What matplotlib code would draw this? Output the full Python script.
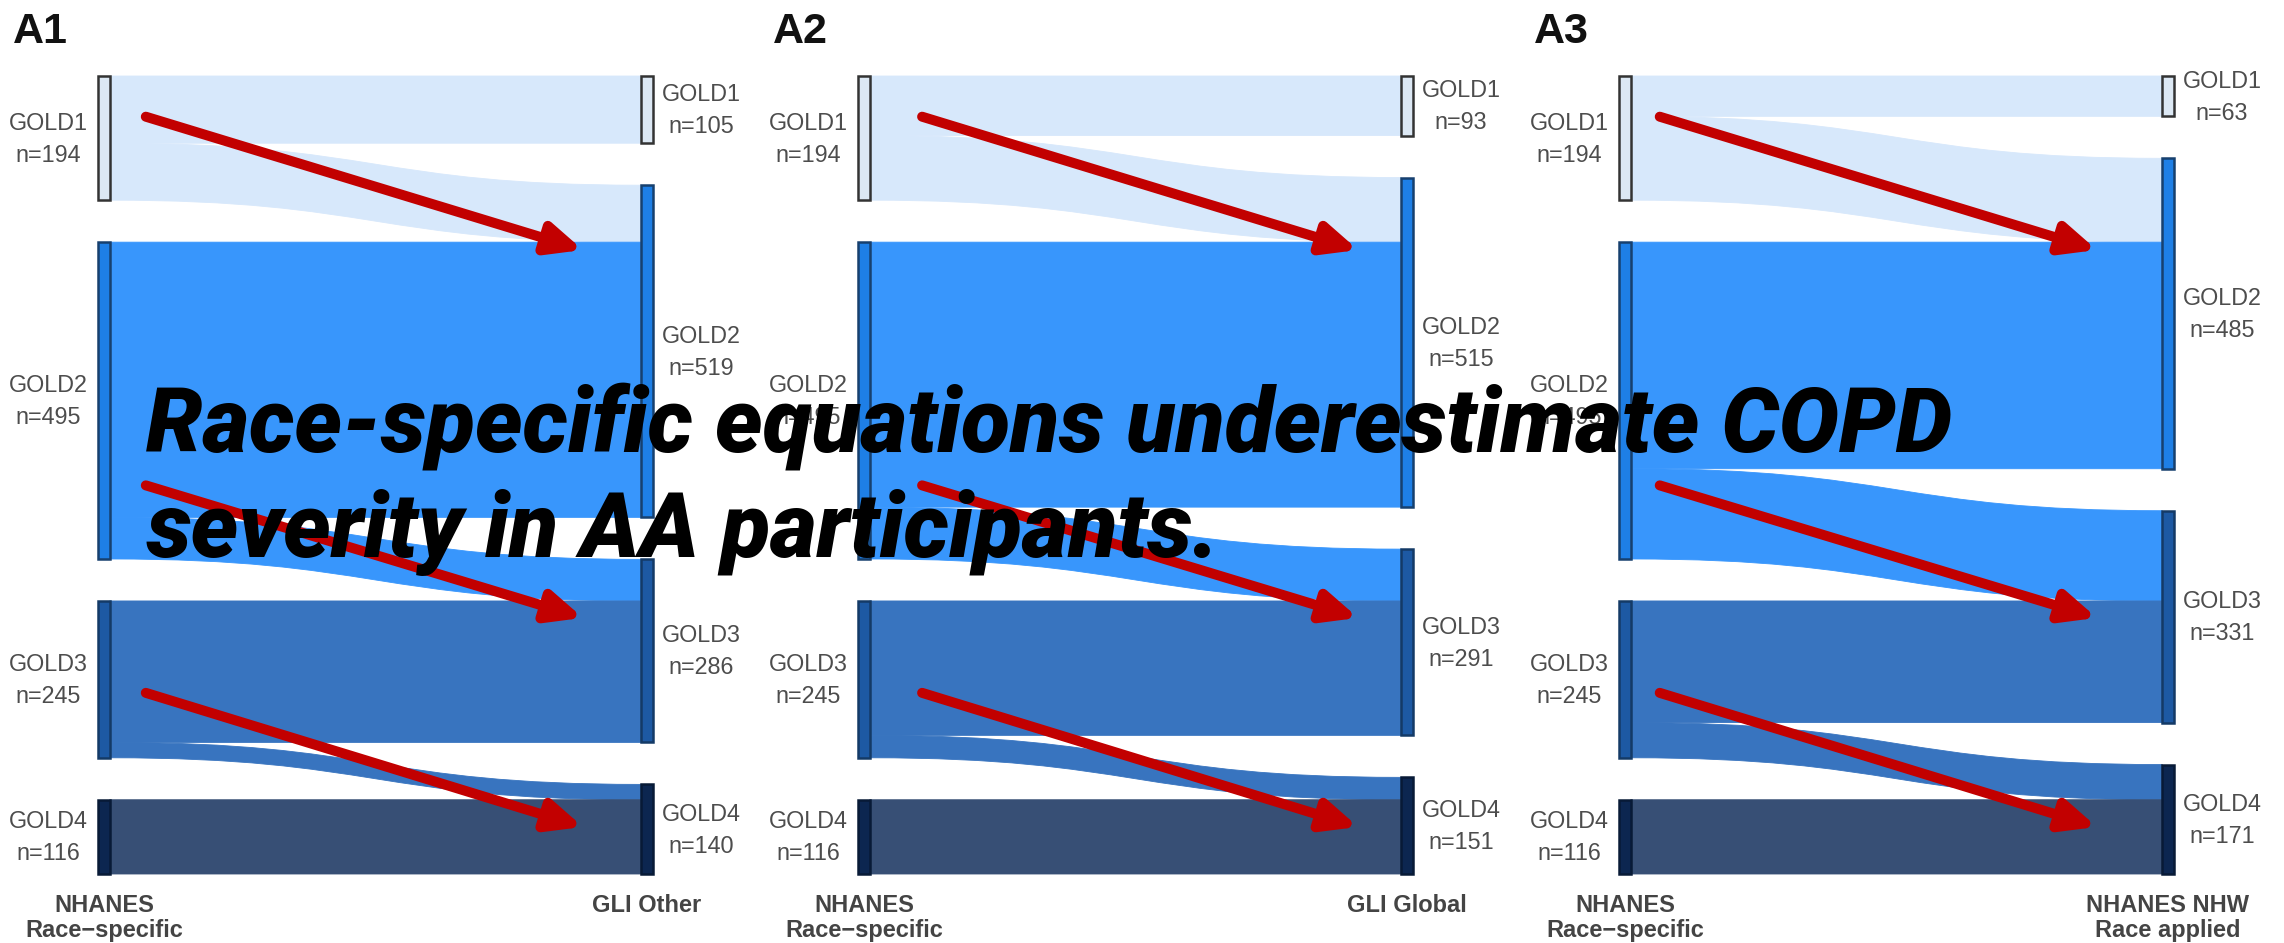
import matplotlib
matplotlib.use("Agg")
import matplotlib.pyplot as plt
from matplotlib.path import Path
from matplotlib.patches import PathPatch, Rectangle
from matplotlib.font_manager import FontProperties, fontManager, weight_dict

# ---------------------------------------------------------------- data
stages = ["GOLD1", "GOLD2", "GOLD3", "GOLD4"]
left_counts = [194, 495, 245, 116]

panel_tags = ["A1", "A2", "A3"]
left_axis_label = ["NHANES", "Race\u2212specific"]
right_axis_labels = [["GLI Other"], ["GLI Global"], ["NHANES NHW", "Race applied"]]

right_counts_a1 = [105, 519, 286, 140]
right_counts_a2 = [93, 515, 291, 151]
right_counts_a3 = [63, 485, 331, 171]

# flow matrices: row = stage under race-specific equation, column = stage under alternative
flows_a1 = [[105, 89, 0, 0],
            [0, 430, 65, 0],
            [0, 0, 221, 24],
            [0, 0, 0, 116]]
flows_a2 = [[93, 101, 0, 0],
            [0, 414, 81, 0],
            [0, 0, 210, 35],
            [0, 0, 0, 116]]
flows_a3 = [[63, 131, 0, 0],
            [0, 354, 141, 0],
            [0, 0, 190, 55],
            [0, 0, 0, 116]]

title_lines = ["Race-specific equations underestimate COPD",
               "severity in AA participants."]

# ---------------------------------------------------------------- style
flow_colors = ["#d7e8fb", "#3896fc", "#3874bf", "#374f75"]
bar_colors = ["#dce8f4", "#1e7fe6", "#1d59a3", "#0c2650"]
bar_edges = ["#333333", "#17406e", "#143a66", "#081a36"]
label_color = "#4d4d4d"
arrow_color = "#c20000"

W, H, DPI = 2284, 943, 100
GAP = 65.6            # vertical gap between stage blocks, in participants
BAR_W = 0.021         # bar width as a fraction of the left-right distance
TOP_PX, BOT_PX = 76, 874
LEFT_BAR_PX = [104, 864, 1625]
SPAN_PX = 543

# red annotation arrows (axes fractions): start/end per panel
arrow_x = [(0.077, 0.882), (0.107, 0.910), (0.064, 0.869)]
arrow_y = [(0.949, 0.782), (0.487, 0.321), (0.227, 0.059)]
ARROW_STYLE = "-|>,head_length=0.62,head_width=0.28"

PX = 72.0 / DPI       # points per pixel

plt.rcParams["font.family"] = ["Liberation Sans", "DejaVu Sans"]

fig = plt.figure(figsize=(W / DPI, H / DPI), dpi=DPI)
fig.patch.set_facecolor("white")


def spans(counts):
    out, y = [], 0.0
    for c in counts:
        out.append([y, y + c])
        y += c + GAP
    return out


def ribbon(ax, x0, x1, a0, a1, b0, b1, color):
    xm = (x0 + x1) / 2
    verts = [(x0, a0), (xm, a0), (xm, b0), (x1, b0),
             (x1, b1), (xm, b1), (xm, a1), (x0, a1), (x0, a0)]
    codes = [Path.MOVETO, Path.CURVE4, Path.CURVE4, Path.CURVE4,
             Path.LINETO, Path.CURVE4, Path.CURVE4, Path.CURVE4, Path.CLOSEPOLY]
    ax.add_patch(PathPatch(Path(verts, codes), facecolor=color,
                           edgecolor=color, lw=0.6, zorder=1, clip_on=False))


def two_lines(ax, x, y, lines, dx, dys, **kw):
    for line, dy in zip(lines, dys):
        ax.annotate(line, xy=(x, y), xycoords="data", xytext=(dx, dy),
                    textcoords="offset points", ha="center", va="baseline",
                    annotation_clip=False, **kw)


def red_arrow(ax, start, end):
    ax.annotate("", xy=end, xycoords="axes fraction", xytext=start, zorder=10,
                annotation_clip=False,
                arrowprops=dict(arrowstyle=ARROW_STYLE, mutation_scale=33,
                                lw=7.2, color=arrow_color,
                                shrinkA=0, shrinkB=0))


panels = [(right_counts_a1, flows_a1), (right_counts_a2, flows_a2),
          (right_counts_a3, flows_a3)]

for k, (rcounts, flows) in enumerate(panels):
    ax = fig.add_axes([LEFT_BAR_PX[k] / W, (H - BOT_PX) / H,
                       SPAN_PX / W, (BOT_PX - TOP_PX) / H])
    total = sum(left_counts) + GAP * (len(stages) - 1)
    ax.set_xlim(0, 1)
    ax.set_ylim(total, 0)
    ax.axis("off")

    lsp, rsp = spans(left_counts), spans(rcounts)
    lcur = [s[0] for s in lsp]
    rcur = [s[0] for s in rsp]
    hw = BAR_W / 2
    n = len(stages)
    for i in range(n):
        for j in range(n):
            v = flows[i][j]
            if v <= 0:
                continue
            a0 = lcur[i]
            lcur[i] += v
            b0 = rcur[j]
            rcur[j] += v
            ribbon(ax, hw, 1 - hw, a0, a0 + v, b0, b0 + v, flow_colors[i])

    for side, sp, counts in ((0.0, lsp, left_counts), (1.0, rsp, rcounts)):
        for i, (y0, y1) in enumerate(sp):
            ax.add_patch(Rectangle((side - hw, y0), BAR_W, y1 - y0,
                                   facecolor=bar_colors[i], edgecolor=bar_edges[i],
                                   lw=1.8, zorder=3, clip_on=False))
            dx = -56 * PX if side == 0 else 54 * PX
            two_lines(ax, side, (y0 + y1) / 2,
                      [stages[i], f"n={counts[i]}"], dx,
                      [8.5 * PX, -23.5 * PX], fontsize=16.8, color=label_color)

    two_lines(ax, 0.0, total, left_axis_label, 0, [-38 * PX, -63 * PX],
              fontsize=17, fontweight="bold", color="#444444")
    two_lines(ax, 1.0, total, right_axis_labels[k], 0, [-38 * PX, -63 * PX],
              fontsize=17, fontweight="bold", color="#444444")

    fig.text((LEFT_BAR_PX[k] - 91) / W, 1 - 43 / H, panel_tags[k],
             fontsize=31, fontweight="bold", color="#111111",
             ha="left", va="baseline")

    for ys, ye in arrow_y:
        red_arrow(ax, (arrow_x[k][0], ys), (arrow_x[k][1], ye))


# ---------------------------------------------------------------- headline
def heavy_italic():
    for fam in ["Roboto", "Lato", "Open Sans", "Noto Sans", "DejaVu Sans"]:
        best = None
        for e in fontManager.ttflist:
            if e.name != fam or e.style not in ("italic", "oblique"):
                continue
            w = e.weight if isinstance(e.weight, int) else weight_dict.get(e.weight, 400)
            if best is None or w > best[0]:
                best = (w, e.fname)
        if best is not None and best[0] >= 700:
            return FontProperties(fname=best[1])
    return FontProperties(family="DejaVu Sans", weight="bold", style="italic")


fp = heavy_italic()
fp.set_size(60)
t1 = fig.text(146 / W, 1 - 451 / H, title_lines[0], fontproperties=fp,
              color="black", ha="left", va="baseline", zorder=5)
t2 = fig.text(146 / W, 1 - 557 / H, title_lines[1], fontproperties=fp,
              color="black", ha="left", va="baseline", zorder=5)
fig.canvas.draw()
w1 = t1.get_window_extent().width
size = 60 * 1806 / w1
t1.set_fontsize(size)
t2.set_fontsize(size)

fig.savefig("out.png", dpi=DPI, facecolor="white")
